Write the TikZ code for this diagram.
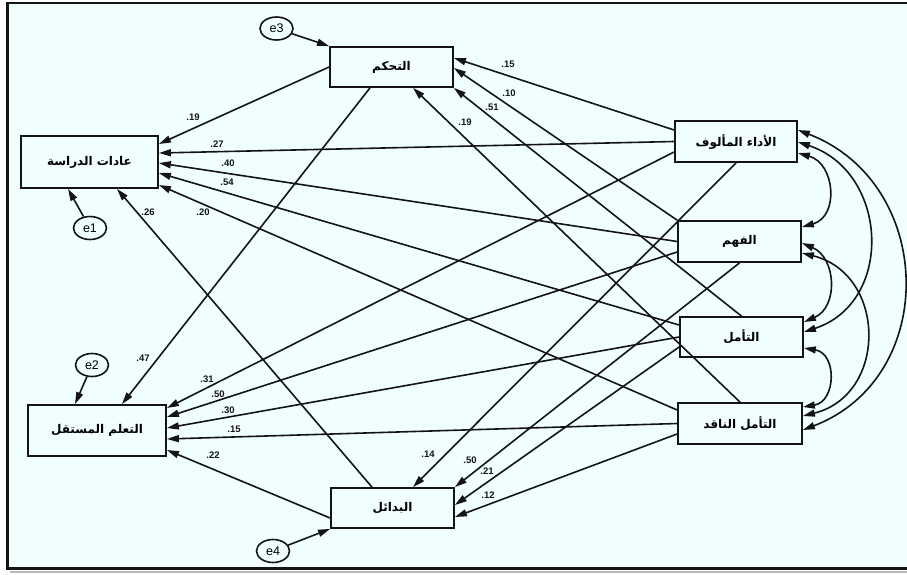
\documentclass[tikz,border=0pt]{standalone}
\usepackage{fontspec}
\setmainfont{Liberation Sans}
\newfontfamily\arabicfont[Script=Arabic]{DejaVu Sans}
\TeXXeTstate=1
\usetikzlibrary{arrows.meta,shapes.geometric}
\definecolor{bgcol}{RGB}{241,254,254}
\definecolor{ink}{RGB}{20,20,20}
\begin{document}
\begin{tikzpicture}[x=1pt,y=-1pt,
  var/.style={draw=ink, line width=1.8pt, fill=bgcol, rectangle, inner sep=0pt,
     font=\arabicfont\bfseries\fontsize{12}{14}\selectfont},
  err/.style={draw=ink, line width=1.6pt, fill=bgcol, ellipse, inner sep=0pt,
     minimum width=33pt, minimum height=23pt, font=\fontsize{12.5}{14}\selectfont},
  lbl/.style={inner sep=0pt, font=\bfseries\fontsize{9.5}{10}\selectfont, text=ink},
  path/.style={draw=ink, line width=1.6pt, -{Triangle[length=12pt,width=7pt]}},
  cov/.style={draw=ink, line width=1.6pt, {Triangle[length=12pt,width=7pt]}-{Triangle[length=12pt,width=7pt]}}
]
\useasboundingbox (0,0) rectangle (907,574);
\fill[white] (0,0) rectangle (907,574);
\draw[gray!55, line width=2pt] (10,572) -- (907,572);
\fill[bgcol] (7.3,3) rectangle (930,568.7);
\draw[ink, line width=2.8pt] (7.3,3) rectangle (930,568.7);

% variables
\node[var, minimum width=123pt, minimum height=40pt] (tahakkum) at (391.5,67) {\beginR التحكم\endR};
\node[var, minimum width=137pt, minimum height=52pt] (adat) at (89.5,162) {\beginR عادات الدراسة\endR};
\node[var, minimum width=138pt, minimum height=51pt] (taallum) at (97,430.5) {\beginR التعلم المستقل\endR};
\node[var, minimum width=123pt, minimum height=40pt] (badail) at (392.5,508) {\beginR البدائل\endR};
\node[var, minimum width=122pt, minimum height=41pt] (adaa) at (736,141.5) {\beginR الأداء المألوف\endR};
\node[var, minimum width=123pt, minimum height=41pt] (fahm) at (739.5,241.5) {\beginR الفهم\endR};
\node[var, minimum width=123pt, minimum height=40pt] (taammul) at (741.5,337) {\beginR التأمل\endR};
\node[var, minimum width=124pt, minimum height=41pt] (naqid) at (740,423.5) {\beginR التأمل الناقد\endR};

% errors
\node[err] (e3) at (276.5,28.5) {e3};
\node[err] (e1) at (90,228) {e1};
\node[err] (e2) at (92,365) {e2};
\node[err] (e4) at (273,551) {e4};

\draw[path] (e3) -- (tahakkum.north west);
\draw[path] (e1) -- ([xshift=-21.5pt]adat.south);
\draw[path] (e2) -- ([xshift=-22pt]taallum.north);
\draw[path] (e4) -- (badail.south west);

% paths into tahakkum
\draw[path] ([yshift=11.5pt]adaa.west) -- ([yshift=9pt]tahakkum.east);
\draw[path] (fahm.north west) -- ([yshift=-1pt]tahakkum.east);
\draw[path] (taammul.north) -- (tahakkum.south east);
\draw[path] (naqid.north) -- ([xshift=21.5pt]tahakkum.south);

% paths into adat
\draw[path] (tahakkum.west) -- ([yshift=18pt]adat.east);
\draw[path] (adaa.west) -- ([yshift=9pt]adat.east);
\draw[path] (fahm.west) -- ([yshift=-1pt]adat.east);
\draw[path] ([yshift=12pt]taammul.west) -- ([yshift=-11pt]adat.east);
\draw[path] ([yshift=13.5pt]naqid.west) -- ([yshift=-23pt]adat.east);
\draw[path] ([xshift=-20.5pt]badail.north) -- ([xshift=27.5pt]adat.south);

% paths into taallum
\draw[path] ([xshift=-21.5pt]tahakkum.south) -- ([xshift=25pt]taallum.north);
\draw[path] ([yshift=-10.5pt]adaa.west) -- ([yshift=22.5pt]taallum.east);
\draw[path] ([yshift=-10.5pt]fahm.west) -- ([yshift=13.5pt]taallum.east);
\draw[path] (taammul.west) -- ([yshift=2.5pt]taallum.east);
\draw[path] (naqid.west) -- ([yshift=-8.5pt]taallum.east);
\draw[path] ([yshift=-10pt]badail.west) -- ([yshift=-19.5pt]taallum.east);

% paths into badail
\draw[path] (adaa.south) -- ([xshift=20.5pt]badail.north);
\draw[path] (fahm.south) -- (badail.north east);
\draw[path] ([yshift=-10pt]taammul.west) -- ([yshift=3pt]badail.east);
\draw[path] ([yshift=-10.5pt]naqid.west) -- ([yshift=-9pt]badail.east);

% covariances
\draw[cov] ([yshift=-11.5pt]adaa.east) .. controls +(37.4,10.5) and +(37.4,-10.5) .. ([yshift=14.5pt]fahm.east);
\draw[cov] ([yshift=-0.5pt]adaa.east) .. controls +(90.7,29.8) and +(90.7,-29.8) .. ([yshift=5pt]taammul.east);
\draw[cov] ([yshift=11.5pt]adaa.east) .. controls +(137.4,52.8) and +(137.4,-52.8) .. ([yshift=-6.5pt]naqid.east);
\draw[cov] ([yshift=-1.5pt]fahm.east) .. controls +(34.6,14.9) and +(34.6,-14.9) .. ([yshift=15pt]taammul.east);
\draw[cov] ([yshift=-11.5pt]fahm.east) .. controls +(84.9,21.2) and +(84.9,-21.2) .. ([yshift=7.5pt]naqid.east);
\draw[cov] ([yshift=-11pt]taammul.east) .. controls +(33.3,5.5) and +(33.3,-5.5) .. ([yshift=16.5pt]naqid.east);

% labels
\node[lbl] (l01) at (508,64) {.15};
\node[lbl] (l02) at (509,93) {.10};
\node[lbl] (l03) at (492,107) {.51};
\node[lbl] (l04) at (465,122) {.19};
\node[lbl] (l05) at (193,117) {.19};
\node[lbl] (l06) at (217,144) {.27};
\node[lbl] (l07) at (228,163) {.40};
\node[lbl] (l08) at (227,182) {.54};
\node[lbl] (l09) at (203,212) {.20};
\node[lbl] (l10) at (148,212) {.26};
\node[lbl] (l11) at (143,358) {.47};
\node[lbl] (l12) at (207,379) {.31};
\node[lbl] (l13) at (218,394) {.50};
\node[lbl] (l14) at (228,410) {.30};
\node[lbl] (l15) at (234,429) {.15};
\node[lbl] (l16) at (213,455) {.22};
\node[lbl] (l17) at (428,454) {.14};
\node[lbl] (l18) at (470,460) {.50};
\node[lbl] (l19) at (487,471) {.21};
\node[lbl] (l20) at (488,495) {.12};
\end{tikzpicture}
\end{document}
